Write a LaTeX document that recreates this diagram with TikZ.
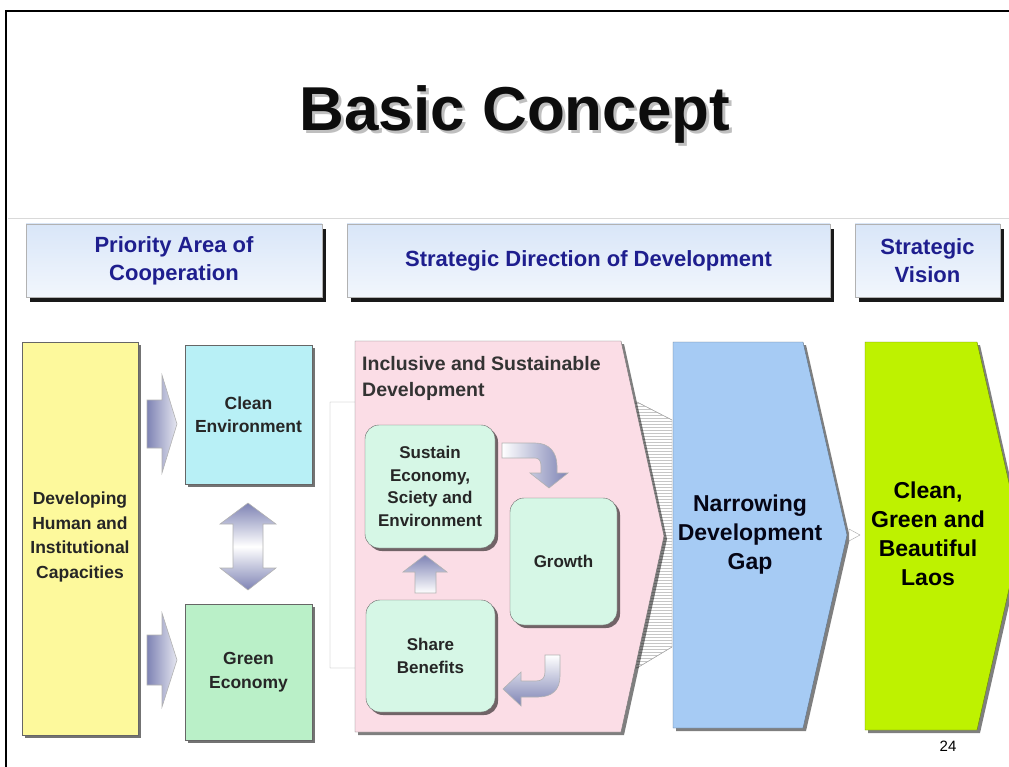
\documentclass[tikz,border=0pt]{standalone}
\usepackage{fontspec}
\setmainfont{Liberation Sans}
\usetikzlibrary{shadows, patterns}

\definecolor{headblue}{HTML}{D9E6F8}
\definecolor{headtext}{HTML}{1E1E8E}
\definecolor{capyellow}{HTML}{FDF99C}
\definecolor{envcyan}{HTML}{B8F0F6}
\definecolor{ecogreen}{HTML}{BAF0C8}
\definecolor{incpink}{HTML}{FBDDE6}
\definecolor{loopmint}{HTML}{D6F7E6}
\definecolor{gapblue}{HTML}{A6CBF4}
\definecolor{laoslime}{HTML}{BEF200}
\definecolor{arrowgray}{HTML}{7E83B4}

\begin{document}
\begin{tikzpicture}[x=1pt, y=-1pt,
    every node/.style={align=center, inner sep=0pt},
    header/.style={draw=gray!60, top color=headblue, bottom color=headblue!35,
      drop shadow={shadow xshift=4pt, shadow yshift=-5pt, fill=black, opacity=.9},
      text=headtext, font=\fontsize{22}{28}\selectfont\bfseries, minimum height=73pt},
    block/.style={draw=black!60,
      drop shadow={shadow xshift=3pt, shadow yshift=-3pt, fill=black, opacity=.55},
      font=\fontsize{17.5}{23.5}\selectfont\bfseries, text=black!85},
    loopbox/.style={block, fill=loopmint, rounded corners=14pt,
      font=\fontsize{17}{22.5}\selectfont\bfseries},
    chevron/.style={draw=black!55,
      drop shadow={shadow xshift=3pt, shadow yshift=-3pt, fill=black, opacity=.5}},
    bigtext/.style={font=\fontsize{23}{29}\selectfont\bfseries},
    fatarrow/.style={draw=gray!60, line width=.6pt}]
  \useasboundingbox (0,0) rectangle (1009,767);

  % slide frame and title
  \draw[line width=2pt] (6,767) -- (6,11) -- (1009,11);
  \draw[gray!30] (8,218) -- (1009,218);
  \node[anchor=base, text=black!25, font=\fontsize{62}{70}\selectfont\bfseries] (titleshadow) at (518,134) {Basic Concept};
  \node[anchor=base, text=black!95, font=\fontsize{62}{70}\selectfont\bfseries] (title) at (515,131) {Basic Concept};

  % column headers
  \node[header, minimum width=296pt] (priority) at (174,260.5) {Priority Area of\\Cooperation};
  \node[header, minimum width=483pt] (direction) at (588.5,260.5) {Strategic Direction of Development};
  \node[header, minimum width=145pt] (vision) at (927.5,260.5) {Strategic\\Vision};

  % priority areas
  \node[block, fill=capyellow, minimum width=116pt, minimum height=393pt] (capacity) at (80,538.5) {};
  \node[text=black!85, font=\fontsize{17.5}{24.5}\selectfont\bfseries] (capacitytext) at (80,537) {Developing\\Human and\\Institutional\\Capacities};
  \node[block, fill=envcyan, minimum width=127pt, minimum height=139pt] (clean) at (248.5,414.5) {Clean\\Environment};
  \node[block, fill=ecogreen, minimum width=127pt, minimum height=136pt] (green) at (248.5,672) {Green\\Economy};

  \coordinate (toclean) at (147,424);
  \coordinate (togreen) at (147,660);
  \coordinate (link) at (248,546.5);
  \draw[fatarrow, left color=arrowgray, right color=white!80!arrowgray] (toclean) ++(0,-24) -- ++(15,0) -- ++(0,-25) -- ++(15,49) -- ++(-15,49) -- ++(0,-25) -- ++(-15,0) -- cycle;
  \draw[fatarrow, left color=arrowgray, right color=white!80!arrowgray] (togreen) ++(0,-25) -- ++(15,0) -- ++(0,-22) -- ++(15,47) -- ++(-15,47) -- ++(0,-22) -- ++(-15,0) -- cycle;
  \draw[fatarrow, top color=arrowgray, bottom color=arrowgray, middle color=white] (link) ++(0,-43.5) -- ++(28,21) -- ++(-13,0) -- ++(0,44) -- ++(13,0) -- ++(-28,22) -- ++(-28,-22) -- ++(13,0) -- ++(0,-44) -- ++(-13,0) -- cycle;

  % funnel behind the development block
  \draw[gray!70, fill=white] (330,402) -- (637,402) -- (672,420) -- (672,647) -- (637,668) -- (330,668) -- cycle;
  \fill[pattern=horizontal lines, pattern color=gray!45] (600,402) -- (637,402) -- (672,420) -- (672,647) -- (637,668) -- (600,668) -- cycle;
  \draw[gray!70] (600,402) -- (637,402) -- (672,420) (672,647) -- (637,668) -- (600,668);

  % inclusive and sustainable development
  \draw[chevron, fill=incpink] (355,341) -- (621,341) -- (664,536) -- (621,732) -- (355,732) -- cycle;
  \node[anchor=north west, align=left, text=black!80, font=\fontsize{19.5}{26}\selectfont\bfseries] (inclusive) at (362,356) {Inclusive and Sustainable\\Development};
  \node[loopbox, minimum width=130pt, minimum height=123pt] (sustain) at (430,486.5) {Sustain\\Economy,\\Sciety and\\Environment};
  \node[loopbox, minimum width=107pt, minimum height=127pt] (growth) at (563.5,561.5) {Growth};
  \node[loopbox, minimum width=129pt, minimum height=112pt] (share) at (430.5,656) {Share\\Benefits};

  \draw[fatarrow, left color=white, right color=arrowgray] (502,443) -- (535,443) .. controls (549,443) and (557,452) .. (557,466) -- (557,473) -- (568,473) -- (549,488) -- (530,473) -- (541,473) -- (541,466) .. controls (541,461) and (539,458) .. (535,458) -- (502,458) -- cycle;
  \draw[fatarrow, top color=arrowgray, bottom color=white] (415,593) -- (415,572) -- (403,572) -- (425,555) -- (447,572) -- (436,572) -- (436,593) -- cycle;
  \draw[fatarrow, top color=white, bottom color=arrowgray] (545,655) -- (560,655) -- (560,676) .. controls (560,690) and (552,697) .. (538,697) -- (521,697) -- (521,706) -- (503,689) -- (521,672) -- (521,681) -- (536,681) .. controls (542,681) and (545,678) .. (545,672) -- cycle;

  % narrowing the gap and the vision
  \draw[chevron, draw=black!45!gapblue, fill=gapblue] (673,342) -- (803,342) -- (847,535) -- (803,728) -- (673,728) -- cycle;
  \node[bigtext, text=black!85!headtext] (gap) at (750,535) {Narrowing\\Development\\Gap};
  \draw[gray!70, fill=white] (849,529) -- (860,535) -- (849,541) -- cycle;
  \draw[chevron, draw=black!45!laoslime, fill=laoslime] (865,342) -- (977,342) -- (1021,536) -- (977,730) -- (865,730) -- cycle;
  \node[bigtext, text=black] (laos) at (928,534) {Clean,\\Green and\\Beautiful\\Laos};

  \node[anchor=base, font=\fontsize{15}{18}\selectfont] (page) at (948,751) {24};
\end{tikzpicture}
\end{document}
